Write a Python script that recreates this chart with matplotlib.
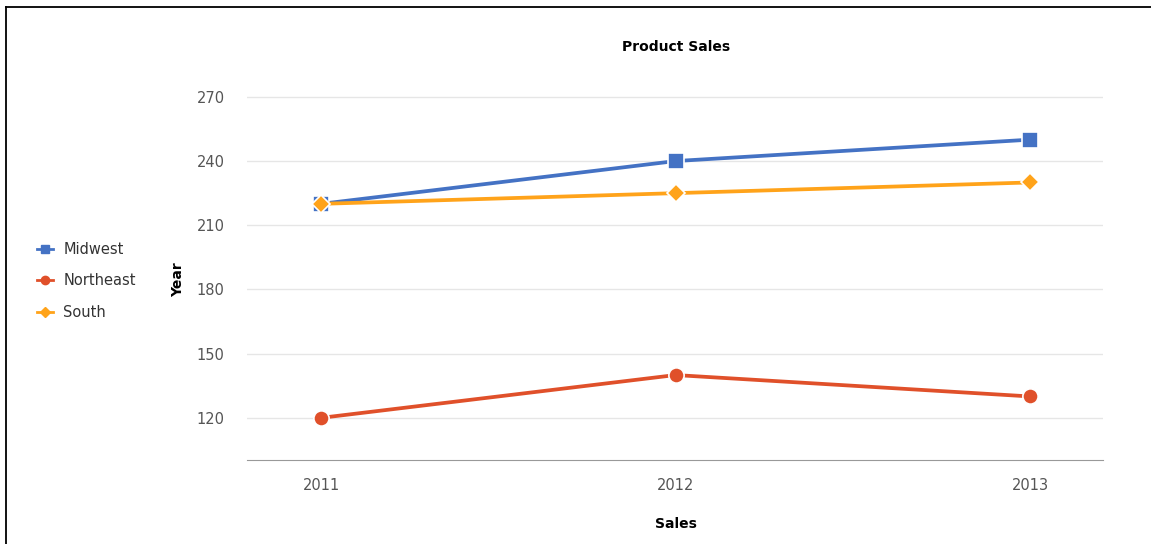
import matplotlib
matplotlib.use("Agg")
import matplotlib.pyplot as plt
from matplotlib.lines import Line2D

years = ["2011", "2012", "2013"]
midwest = [220, 240, 250]
northeast = [120, 140, 130]
south = [220, 225, 230]
yticks = [120, 150, 180, 210, 240, 270]

W, H = 1151, 544
fig = plt.figure(figsize=(W / 100, H / 100), dpi=100)
ax = fig.add_axes([247 / W, 1 - 460 / H, (1103 - 247) / W, (460 - 93) / H])

x = list(range(len(years)))
c_mw, c_ne, c_so = "#4472C4", "#E0502A", "#FFA31A"
ax.plot(x, midwest, color=c_mw, lw=2.7, marker="s", ms=11, mec="white", mew=1.2, zorder=3)
ax.plot(x, northeast, color=c_ne, lw=2.7, marker="o", ms=11, mec="white", mew=1.2, zorder=3)
ax.plot(x, south, color=c_so, lw=2.7, marker="D", ms=9, mec="white", mew=1.2, zorder=4)

ax.set_xlim(-0.209, 2.206)
ax.set_ylim(100.3, 271.8)
ax.set_xticks(x)
ax.set_xticklabels(years)
ax.set_yticks(yticks)
ax.grid(axis="y", color="#e6e6e6", lw=1)
ax.set_axisbelow(True)
for s in ["top", "right", "left"]:
    ax.spines[s].set_visible(False)
ax.spines["bottom"].set_color("#999999")
ax.tick_params(axis="both", length=0, labelsize=10.5, colors="#555555")
ax.tick_params(axis="x", pad=13)
ax.tick_params(axis="y", pad=16)

fig.text(676 / W, 1 - 47 / H, "Product Sales", ha="center", va="center", fontsize=10, fontweight="bold")
fig.text(676 / W, 1 - 524 / H, "Sales", ha="center", va="center", fontsize=10, fontweight="bold")
fig.text(178 / W, 1 - 280 / H, "Year", ha="center", va="center", fontsize=10, fontweight="bold", rotation=90)

handles = [
    Line2D([], [], color=c_mw, lw=2, marker="s", ms=6),
    Line2D([], [], color=c_ne, lw=2, marker="o", ms=6),
    Line2D([], [], color=c_so, lw=2, marker="D", ms=5),
]
fig.legend(handles, ["Midwest", "Northeast", "South"], loc="center left",
           bbox_to_anchor=(24 / W, 1 - 281 / H), frameon=False, fontsize=10.5,
           handlelength=1.1, handletextpad=0.7, labelspacing=1.15, labelcolor="#333333")

fig.add_artist(Line2D([6 / W, 6 / W], [0, 1 - 7 / H], color="black", lw=1.3))
fig.add_artist(Line2D([6 / W, 1], [1 - 7 / H, 1 - 7 / H], color="black", lw=1.3))

fig.savefig("out.png", dpi=100)
